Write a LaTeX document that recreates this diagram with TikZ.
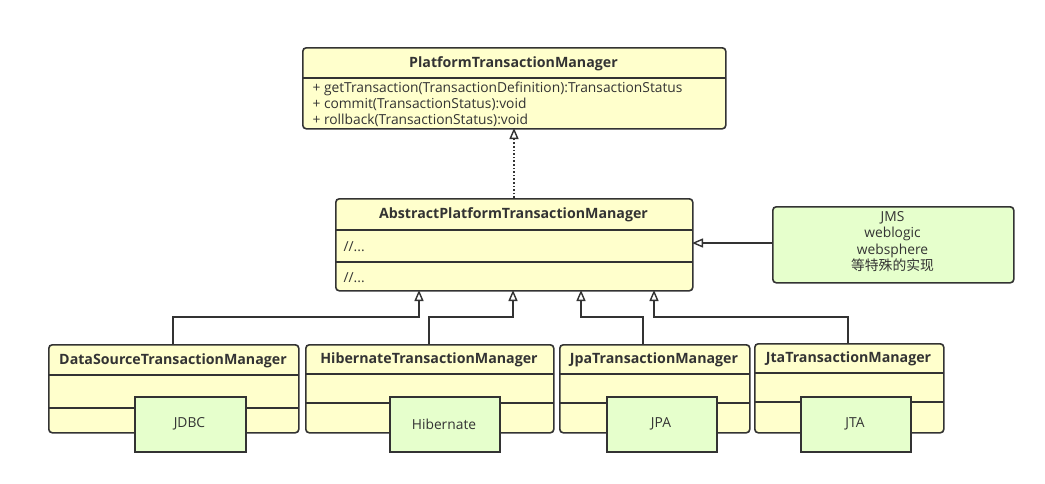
\documentclass[tikz,border=0pt]{standalone}
\usepackage{fontspec}
\setmainfont{Open Sans}
\newfontfamily\cjk{Noto Sans CJK SC}
\usetikzlibrary{arrows.meta}
\definecolor{ink}{HTML}{333333}
\definecolor{yel}{HTML}{FFFFCC}
\definecolor{grn}{HTML}{E6FFCC}
\tikzset{
  cls/.style={draw=ink, line width=1.6pt, fill=yel, rounded corners=3.5pt, anchor=north west, inner sep=0pt},
  note/.style={draw=ink, line width=1.6pt, fill=grn, anchor=north west, inner sep=0pt},
  notert/.style={draw=ink, line width=1.6pt, fill=grn, rounded corners=3.5pt, anchor=north west, inner sep=0pt},
  divider/.style={draw=ink, line width=1.6pt},
  title/.style={font=\fontsize{14.2}{16}\selectfont\bfseries, text=ink},
  body/.style={font=\fontsize{13.8}{16.5}\selectfont, text=ink},
  inh/.style={draw=ink, line width=1.6pt, -{Triangle[open, length=11pt, width=9pt, line width=1.4pt]}},
  real/.style={inh, dotted},
}
\begin{document}
\begin{tikzpicture}[x=1pt, y=-1pt]
\useasboundingbox (0,0) rectangle (1045,483);
% Top interface
\node[cls, minimum width=423pt, minimum height=81pt] (ptm) at (302,47) {};
\draw[divider] (302,78) -- (725,78);
\node[title] (ptmt) at (513.5,64) {PlatformTransactionManager};
\node[body, anchor=west] (m1) at (309,88.5) {+ getTransaction(TransactionDefinition):TransactionStatus};
\node[body, anchor=west] (m2) at (309,104.5) {+ commit(TransactionStatus):void};
\node[body, anchor=west] (m3) at (309,120.5) {+ rollback(TransactionStatus):void};

% Abstract
\node[cls, minimum width=357pt, minimum height=92pt] (apm) at (335,198) {};
\draw[divider] (335,230) -- (692,230);
\draw[divider] (335,262) -- (692,262);
\node[title] (apmt) at (513.5,215) {AbstractPlatformTransactionManager};
\node[body, anchor=west] (c1) at (340,247) {//...};
\node[body, anchor=west] (c2) at (340,278) {//...};

% JMS note
\node[notert, minimum width=241pt, minimum height=76pt] (jms) at (772,206) {};
\node[body, align=center] (jmst) at (892.5,241.5) {JMS\\weblogic\\websphere\\{\cjk 等特殊的实现}};

% Bottom classes
\node[cls, minimum width=250pt, minimum height=88pt] (ds) at (48,344) {};
\draw[divider] (48,375) -- (298,375);
\draw[divider] (48,408) -- (298,408);
\node[title] (dst) at (173,361) {DataSourceTransactionManager};

\node[cls, minimum width=248pt, minimum height=88pt] (hb) at (305,344) {};
\draw[divider] (305,374) -- (553,374);
\draw[divider] (305,403) -- (553,403);
\node[title] (hbt) at (429,360) {HibernateTransactionManager};

\node[cls, minimum width=190pt, minimum height=88pt] (jpa) at (559,344) {};
\draw[divider] (559,374) -- (749,374);
\draw[divider] (559,403) -- (749,403);
\node[title] (jpat) at (654,360) {JpaTransactionManager};

\node[cls, minimum width=189pt, minimum height=89pt] (jta) at (754,343) {};
\draw[divider] (754,373) -- (943,373);
\draw[divider] (754,402) -- (943,402);
\node[title] (jtat) at (848.5,359) {JtaTransactionManager};

% Green notes
\node[note, minimum width=111pt, minimum height=55pt] (jdbc) at (134,396) {};
\node[body] at (189.5,424) {JDBC};
\node[note, minimum width=110pt, minimum height=55pt] (hbn) at (389,396) {};
\node[body] at (444,424) {Hibernate};
\node[note, minimum width=110pt, minimum height=55pt] (jpan) at (606,396) {};
\node[body] at (661,424) {JPA};
\node[note, minimum width=110pt, minimum height=55pt] (jtan) at (800,396) {};
\node[body] at (855,424) {JTA};

% Connectors
\coordinate (t0) at (514,128);
\coordinate (a1) at (419,290);
\coordinate (a2) at (513,290);
\coordinate (a3) at (581,290);
\coordinate (a4) at (654,290);
\coordinate (ar) at (692,243);
\coordinate (jl) at (772,243);
\coordinate (ds0) at (173,344);
\coordinate (hb0) at (429,344);
\coordinate (jpa0) at (643,344);
\coordinate (jta0) at (848,343);

\draw[real] (514,198) -- (t0);
\draw[inh] (jl) -- (ar);
\draw[inh] (ds0) |- (419,317) -- (a1);
\draw[inh] (hb0) |- (513,317) -- (a2);
\draw[inh] (jpa0) |- (581,317) -- (a3);
\draw[inh] (jta0) |- (654,317) -- (a4);
\end{tikzpicture}
\end{document}
